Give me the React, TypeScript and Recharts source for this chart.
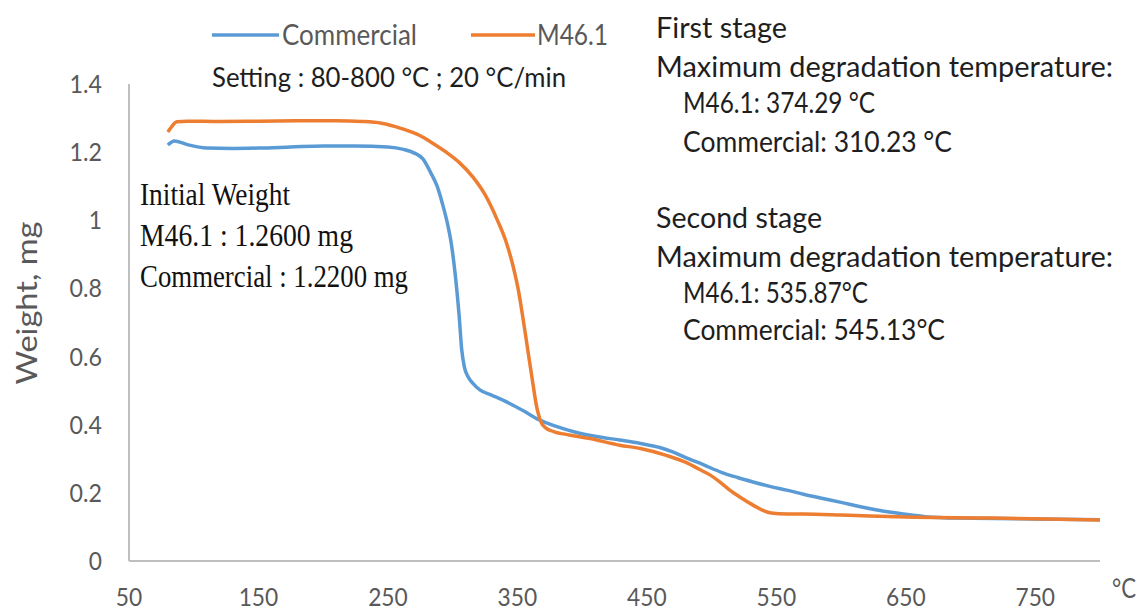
import React from "react";
import { LineChart, Line, XAxis, YAxis, Legend } from "recharts";

const commercialTemp = [80, 85, 95, 110, 130, 150, 175, 200, 225, 250, 262, 270, 277, 283, 288, 292, 296, 299, 302, 305, 307, 309, 312, 316, 321, 330, 340, 355, 367, 380, 395, 410, 429, 445, 460, 470, 481, 494, 507, 520, 532, 545, 558, 571, 584, 600, 615, 630, 648, 665, 690, 720, 750, 800];
const commercialWeight = [1.221, 1.233, 1.222, 1.212, 1.211, 1.212, 1.215, 1.218, 1.218, 1.215, 1.208, 1.198, 1.18, 1.14, 1.1, 1.05, 0.99, 0.93, 0.84, 0.72, 0.62, 0.57, 0.54, 0.52, 0.502, 0.487, 0.47, 0.44, 0.414, 0.395, 0.378, 0.366, 0.355, 0.345, 0.333, 0.32, 0.302, 0.282, 0.261, 0.245, 0.232, 0.219, 0.208, 0.196, 0.185, 0.172, 0.159, 0.148, 0.138, 0.13, 0.126, 0.125, 0.123, 0.121];

const m461Temp = [80, 83, 87, 95, 120, 150, 180, 210, 230, 245, 260, 275, 283, 295, 305, 316, 325, 334, 341, 347, 351, 354, 358, 362, 365, 368, 372, 378, 390, 405, 429, 445, 465, 481, 490, 499, 507, 514, 523, 532, 540, 546, 558, 571, 600, 622, 650, 717, 760, 800];
const m461Weight = [1.259, 1.275, 1.289, 1.291, 1.29, 1.291, 1.292, 1.292, 1.29, 1.285, 1.27, 1.248, 1.23, 1.2, 1.17, 1.125, 1.075, 1.005, 0.94, 0.86, 0.79, 0.72, 0.62, 0.52, 0.45, 0.41, 0.39, 0.38, 0.37, 0.36, 0.34, 0.33, 0.31, 0.288, 0.27, 0.252, 0.23, 0.208, 0.185, 0.164, 0.148, 0.141, 0.138, 0.138, 0.135, 0.132, 0.129, 0.126, 0.123, 0.12];

const xTicks = [50, 150, 250, 350, 450, 550, 650, 750];
const yTicks = [0, 0.2, 0.4, 0.6, 0.8, 1, 1.2, 1.4];

const seriesNames = ["Commercial", "M46.1"];
const seriesColors = ["#5B9BD5", "#ED7D31"];

const firstStage = ["First stage", "Maximum degradation temperature:", "M46.1: 374.29 °C", "Commercial: 310.23 °C"];
const secondStage = ["Second stage", "Maximum degradation temperature:", "M46.1: 535.87°C", "Commercial: 545.13°C"];
const initialWeight = ["Initial Weight", "M46.1 : 1.2600 mg", "Commercial : 1.2200 mg"];
const settingText = "Setting : 80-800 °C ; 20 °C/min";

const commercialData = commercialTemp.map((t, i) => ({ t, w: commercialWeight[i] }));
const m461Data = m461Temp.map((t, i) => ({ t, w: m461Weight[i] }));

const SANS = "Lato, 'Open Sans', sans-serif";
const SERIF = "'Liberation Serif', 'DejaVu Serif', serif";
const GRAY = "#595959";
const INK = "#1e1e1e";

const labelWidth = (s: string) => {
  let w = 0;
  for (const c of s) w += c === "." ? 6 : 13.2;
  return w;
};

const XTick = (props: any) => {
  const { x, payload } = props;
  const s = String(payload.value);
  return (
    <text x={x} y={606} textAnchor="middle" fontSize={25} fontFamily={SANS} fill={GRAY}
      textLength={labelWidth(s)} lengthAdjust="spacingAndGlyphs">{s}</text>
  );
};

const YTick = (props: any) => {
  const { y, payload } = props;
  const s = String(payload.value);
  return (
    <text x={102} y={y + 9} textAnchor="end" fontSize={25} fontFamily={SANS} fill={GRAY}
      textLength={labelWidth(s)} lengthAdjust="spacingAndGlyphs">{s}</text>
  );
};

const LegendContent = (props: any) => {
  const payload = props.payload || [];
  const layout = [
    { x1: 212, x2: 279, tx: 282, tw: 135 },
    { x1: 471, x2: 535, tx: 537, tw: 71 },
  ];
  return (
    <svg width={1143} height={60} style={{ display: "block" }}>
      {payload.map((p: any, i: number) => {
        const l = layout[i] || layout[0];
        return (
          <g key={i}>
            <line x1={l.x1} x2={l.x2} y1={35} y2={35} stroke={p.color} strokeWidth={3.5} />
            <text x={l.tx} y={45} fontSize={29} fontFamily={SANS} fill={GRAY}
              textLength={l.tw} lengthAdjust="spacingAndGlyphs">{p.value}</text>
          </g>
        );
      })}
    </svg>
  );
};

const stageWidths1 = [131, 457, 192, 269];
const stageWidths2 = [166, 457, 185, 262];
const stageBase1 = [38, 77, 113, 152];
const stageBase2 = [228, 267, 303, 340];
const stageX = [656, 656, 683, 683];

export default function App() {
  return (
    <div style={{ position: "absolute", left: 0, top: 0, width: 1143, height: 613, background: "#fff" }}>
      <LineChart width={1143} height={613} margin={{ top: 24, right: 43, left: 0, bottom: 0 }}>
        <XAxis dataKey="t" type="number" domain={[50, 800]} ticks={xTicks} allowDataOverflow
          height={52} tickLine={false} tickSize={0} tickMargin={0}
          axisLine={{ stroke: "#BFBFBF", strokeWidth: 2 }} tick={<XTick />} />
        <YAxis type="number" domain={[0, 1.4]} ticks={yTicks} width={129}
          tickLine={false} tickSize={0} tickMargin={27}
          axisLine={{ stroke: "#BFBFBF", strokeWidth: 2 }} tick={<YTick />} />
        <Legend verticalAlign="top" content={<LegendContent />}
          wrapperStyle={{ position: "absolute", top: 0, left: 0, width: 1143, height: 60 }} />
        <Line data={commercialData} dataKey="w" name={seriesNames[0]} type="monotone" stroke={seriesColors[0]}
          strokeWidth={3.5} dot={false} activeDot={false} isAnimationActive={false} />
        <Line data={m461Data} dataKey="w" name={seriesNames[1]} type="monotone" stroke={seriesColors[1]}
          strokeWidth={3.5} dot={false} activeDot={false} isAnimationActive={false} />
      </LineChart>
      <svg width={1143} height={613} style={{ position: "absolute", left: 0, top: 0, pointerEvents: "none" }}>
        <text x={212} y={87} fontSize={27} fontFamily={SANS} fill={INK} textLength={354} lengthAdjust="spacingAndGlyphs">{settingText}</text>
        {firstStage.map((s, i) => (
          <text key={"a" + i} x={stageX[i]} y={stageBase1[i]} fontSize={28} fontFamily={SANS} fill={INK}
            textLength={stageWidths1[i]} lengthAdjust="spacingAndGlyphs">{s}</text>
        ))}
        {secondStage.map((s, i) => (
          <text key={"b" + i} x={stageX[i]} y={stageBase2[i]} fontSize={28} fontFamily={SANS} fill={INK}
            textLength={stageWidths2[i]} lengthAdjust="spacingAndGlyphs">{s}</text>
        ))}
        {initialWeight.map((s, i) => (
          <text key={"c" + i} x={140} y={[205, 246, 287][i]} fontSize={31} fontFamily={SERIF} fill="#111"
            textLength={[150, 213, 268][i]} lengthAdjust="spacingAndGlyphs">{s}</text>
        ))}
        <text transform="translate(37,303) rotate(-90)" textAnchor="middle" fontSize={28} fontFamily={SANS} fill={GRAY}
          textLength={163} lengthAdjust="spacingAndGlyphs">Weight, mg</text>
        <text x={1112} y={598} fontSize={26} fontFamily={SANS} fill={GRAY} textLength={24} lengthAdjust="spacingAndGlyphs">°C</text>
      </svg>
    </div>
  );
}
